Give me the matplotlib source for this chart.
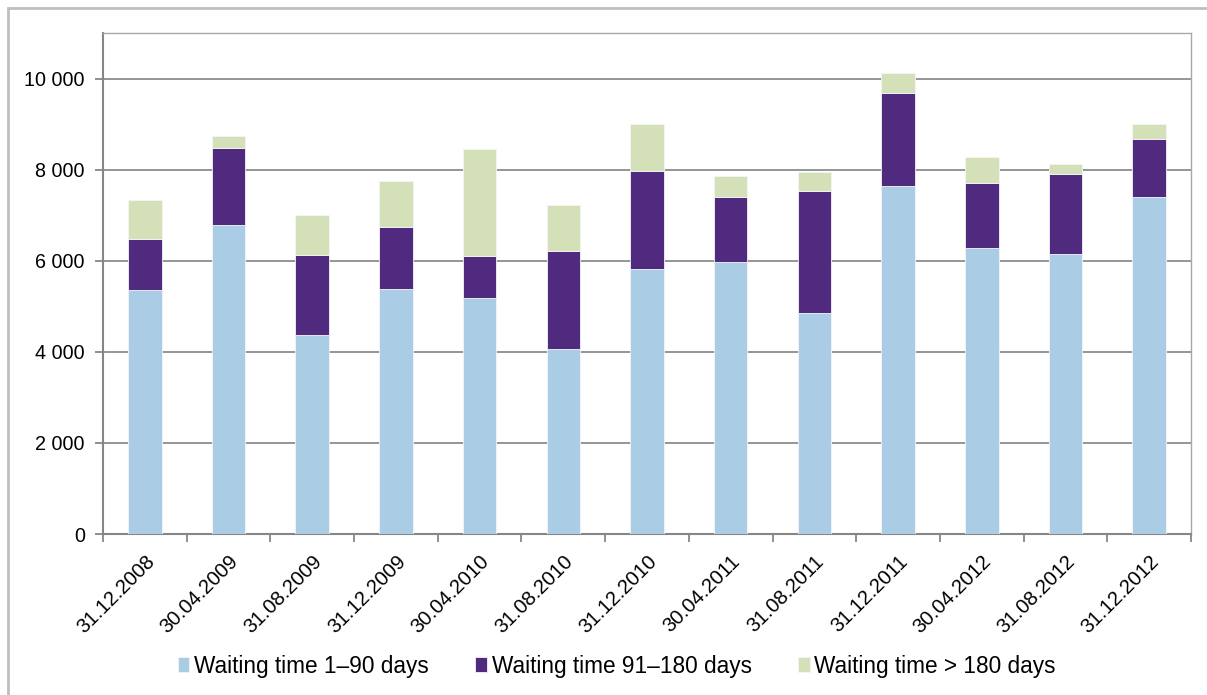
import matplotlib
matplotlib.use("Agg")
import matplotlib.pyplot as plt
from matplotlib.patches import Rectangle
from matplotlib.ticker import FuncFormatter, FixedLocator
import numpy as np

plt.rcParams['font.family'] = ['Liberation Sans', 'DejaVu Sans']

dates = ["31.12.2008", "30.04.2009", "31.08.2009", "31.12.2009", "30.04.2010",
         "31.08.2010", "31.12.2010", "30.04.2011", "31.08.2011", "31.12.2011",
         "30.04.2012", "31.08.2012", "31.12.2012"]
wait_1_90 = [5350, 6780, 4360, 5390, 5180, 4060, 5810, 5970, 4850, 7650, 6270, 6140, 7410]
wait_91_180 = [1120, 1690, 1760, 1360, 920, 2150, 2150, 1440, 2690, 2040, 1430, 1760, 1270]
wait_180_plus = [860, 260, 880, 990, 2350, 1010, 1050, 460, 400, 440, 570, 220, 330]

series_labels = ["Waiting time 1\u201390 days", "Waiting time 91\u2013180 days",
                 "Waiting time > 180 days"]
colors = ["#AACDE5", "#4F2A7E", "#D3E0B8"]

fig = plt.figure(figsize=(12.07, 6.95), dpi=100)
ax = fig.add_axes([103 / 1207, 1 - 534 / 695, (1191 - 103) / 1207, (534 - 33) / 695])

x = np.arange(len(dates))
bottom = np.zeros(len(dates))
handles = []
for vals, col, lab in zip([wait_1_90, wait_91_180, wait_180_plus], colors, series_labels):
    vals = np.array(vals, dtype=float)
    h = ax.bar(x, vals, width=0.4, bottom=bottom, color=col, label=lab,
               edgecolor="#F4F4F8", linewidth=0.6, zorder=3)
    handles.append(h)
    bottom += vals

ax.set_xlim(-0.5, len(dates) - 0.5)
ax.set_ylim(0, 11000)
ax.set_yticks(np.arange(0, 10001, 2000))
ax.yaxis.set_major_formatter(FuncFormatter(lambda v, p: f"{int(v):,}".replace(",", " ")))
ax.tick_params(axis="y", length=6, width=1.3, color="#868686", labelsize=14.2, pad=7)

ax.set_xticks(x)
ax.set_xticklabels(dates, rotation=45, ha="right", rotation_mode="anchor", fontsize=14.6)
ax.tick_params(axis="x", which="major", length=0, pad=13)
ax.xaxis.set_minor_locator(FixedLocator(np.arange(-0.5, len(dates), 1.0)))
ax.tick_params(axis="x", which="minor", length=6, width=1.3, color="#868686")

for yv in range(2000, 10001, 2000):
    ax.axhline(yv, color="#8C8C8C", linewidth=1.3, zorder=1)

for side in ("left", "bottom"):
    ax.spines[side].set_color("#868686")
    ax.spines[side].set_linewidth(1.5)
for side in ("top", "right"):
    ax.spines[side].set_color("#A8A8A8")
    ax.spines[side].set_linewidth(1.0)
    ax.spines[side].set_linestyle((0, (1, 1)))

fig.legend(handles=handles, labels=series_labels, loc="center",
           bbox_to_anchor=(617 / 1207, 1 - 666 / 695), ncol=3, frameon=False,
           fontsize=16.3, handlelength=0.5, handleheight=0.6, handletextpad=0.22,
           columnspacing=2.05, borderpad=0.2)

fig.patches.append(Rectangle((8 / 1207, -0.05), 1.1, 1 - 8 / 695 + 0.05,
                             transform=fig.transFigure, fill=False,
                             edgecolor="#BFBFBF", linewidth=2.0))

fig.savefig("out.png", dpi=100)
